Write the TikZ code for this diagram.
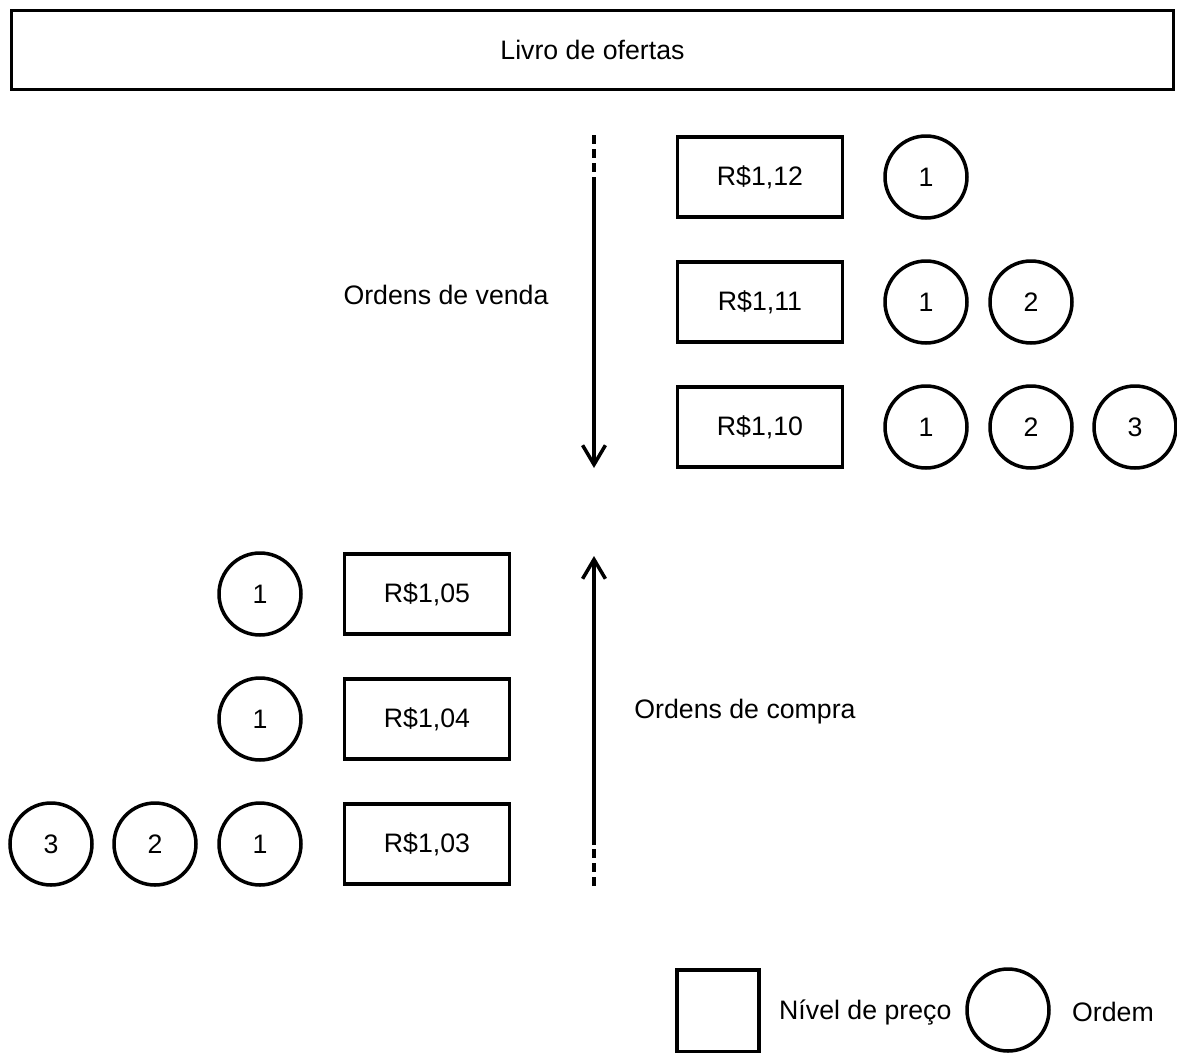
\documentclass[tikz,border=0pt]{standalone}
\usepackage{fontspec}
\setmainfont{Liberation Sans}
\usetikzlibrary{arrows.meta}

\tikzset{
  nivel/.style={draw=black, line width=2pt, minimum width=3.3cm, minimum height=1.6cm, inner sep=0pt},
  ordem/.style={circle, draw=black, line width=2pt, minimum size=1.64cm, inner sep=0pt},
  rotulo/.style={draw=none, fill=none},
  seta/.style={line width=2pt, -{Straight Barb[length=11pt, width=13pt, line width=2pt]}},
  pontilhado/.style={line width=2pt, dash pattern=on 5pt off 3pt}
}

\begin{document}
\begin{tikzpicture}[x=0.02cm, y=-0.02cm, font=\fontsize{15.2}{18}\selectfont]
  \useasboundingbox (0,0) rectangle (1177,1052);

  % Titulo
  \node[draw=black, line width=2pt, minimum width=23.24cm, minimum height=1.58cm, inner sep=0pt] (livro) at (592.5,50) {Livro de ofertas};

  % Ordens de venda
  \node[nivel] (p112) at (760,177) {R\$1,12};
  \node[nivel] (p111) at (760,302) {R\$1,11};
  \node[nivel] (p110) at (760,427) {R\$1,10};

  \node[ordem] (a1) at (926,177) {1};

  \node[ordem] (b1) at (926,302) {1};
  \node[ordem] (b2) at (1031,302) {2};

  \node[ordem] (c1) at (926,427) {1};
  \node[ordem] (c2) at (1031,427) {2};
  \node[ordem] (c3) at (1135,427) {3};

  \node[rotulo] (venda) at (446,295) {Ordens de venda};

  % Ordens de compra
  \node[nivel] (p105) at (427,594) {R\$1,05};
  \node[nivel] (p104) at (427,719) {R\$1,04};
  \node[nivel] (p103) at (427,844) {R\$1,03};

  \node[ordem] (d1) at (260,594) {1};

  \node[ordem] (e1) at (260,719) {1};

  \node[ordem] (f1) at (260,844) {1};
  \node[ordem] (f2) at (155,844) {2};
  \node[ordem] (f3) at (51,844) {3};

  \node[rotulo] (compra) at (745,712) {Ordens de compra};

  % Setas
  \coordinate (v0) at (594,135);
  \coordinate (v1) at (594,177);
  \coordinate (v2) at (594,468);
  \coordinate (c0) at (594,886);
  \coordinate (c1') at (594,845);
  \coordinate (c2') at (594,556);

  \draw[pontilhado] (v0) -- (v1);
  \draw[seta] (v1) -- (v2);
  \draw[pontilhado] (c0) -- (c1');
  \draw[seta] (c1') -- (c2');

  % Legenda
  \node[nivel, minimum width=1.64cm, minimum height=1.64cm] (leg1) at (718,1011) {};
  \node[rotulo, anchor=west] (leg1t) at (773,1012) {Nível de preço};
  \node[ordem] (leg2) at (1008,1010) {};
  \node[rotulo, anchor=west] (leg2t) at (1066,1012) {Ordem};
\end{tikzpicture}
\end{document}
